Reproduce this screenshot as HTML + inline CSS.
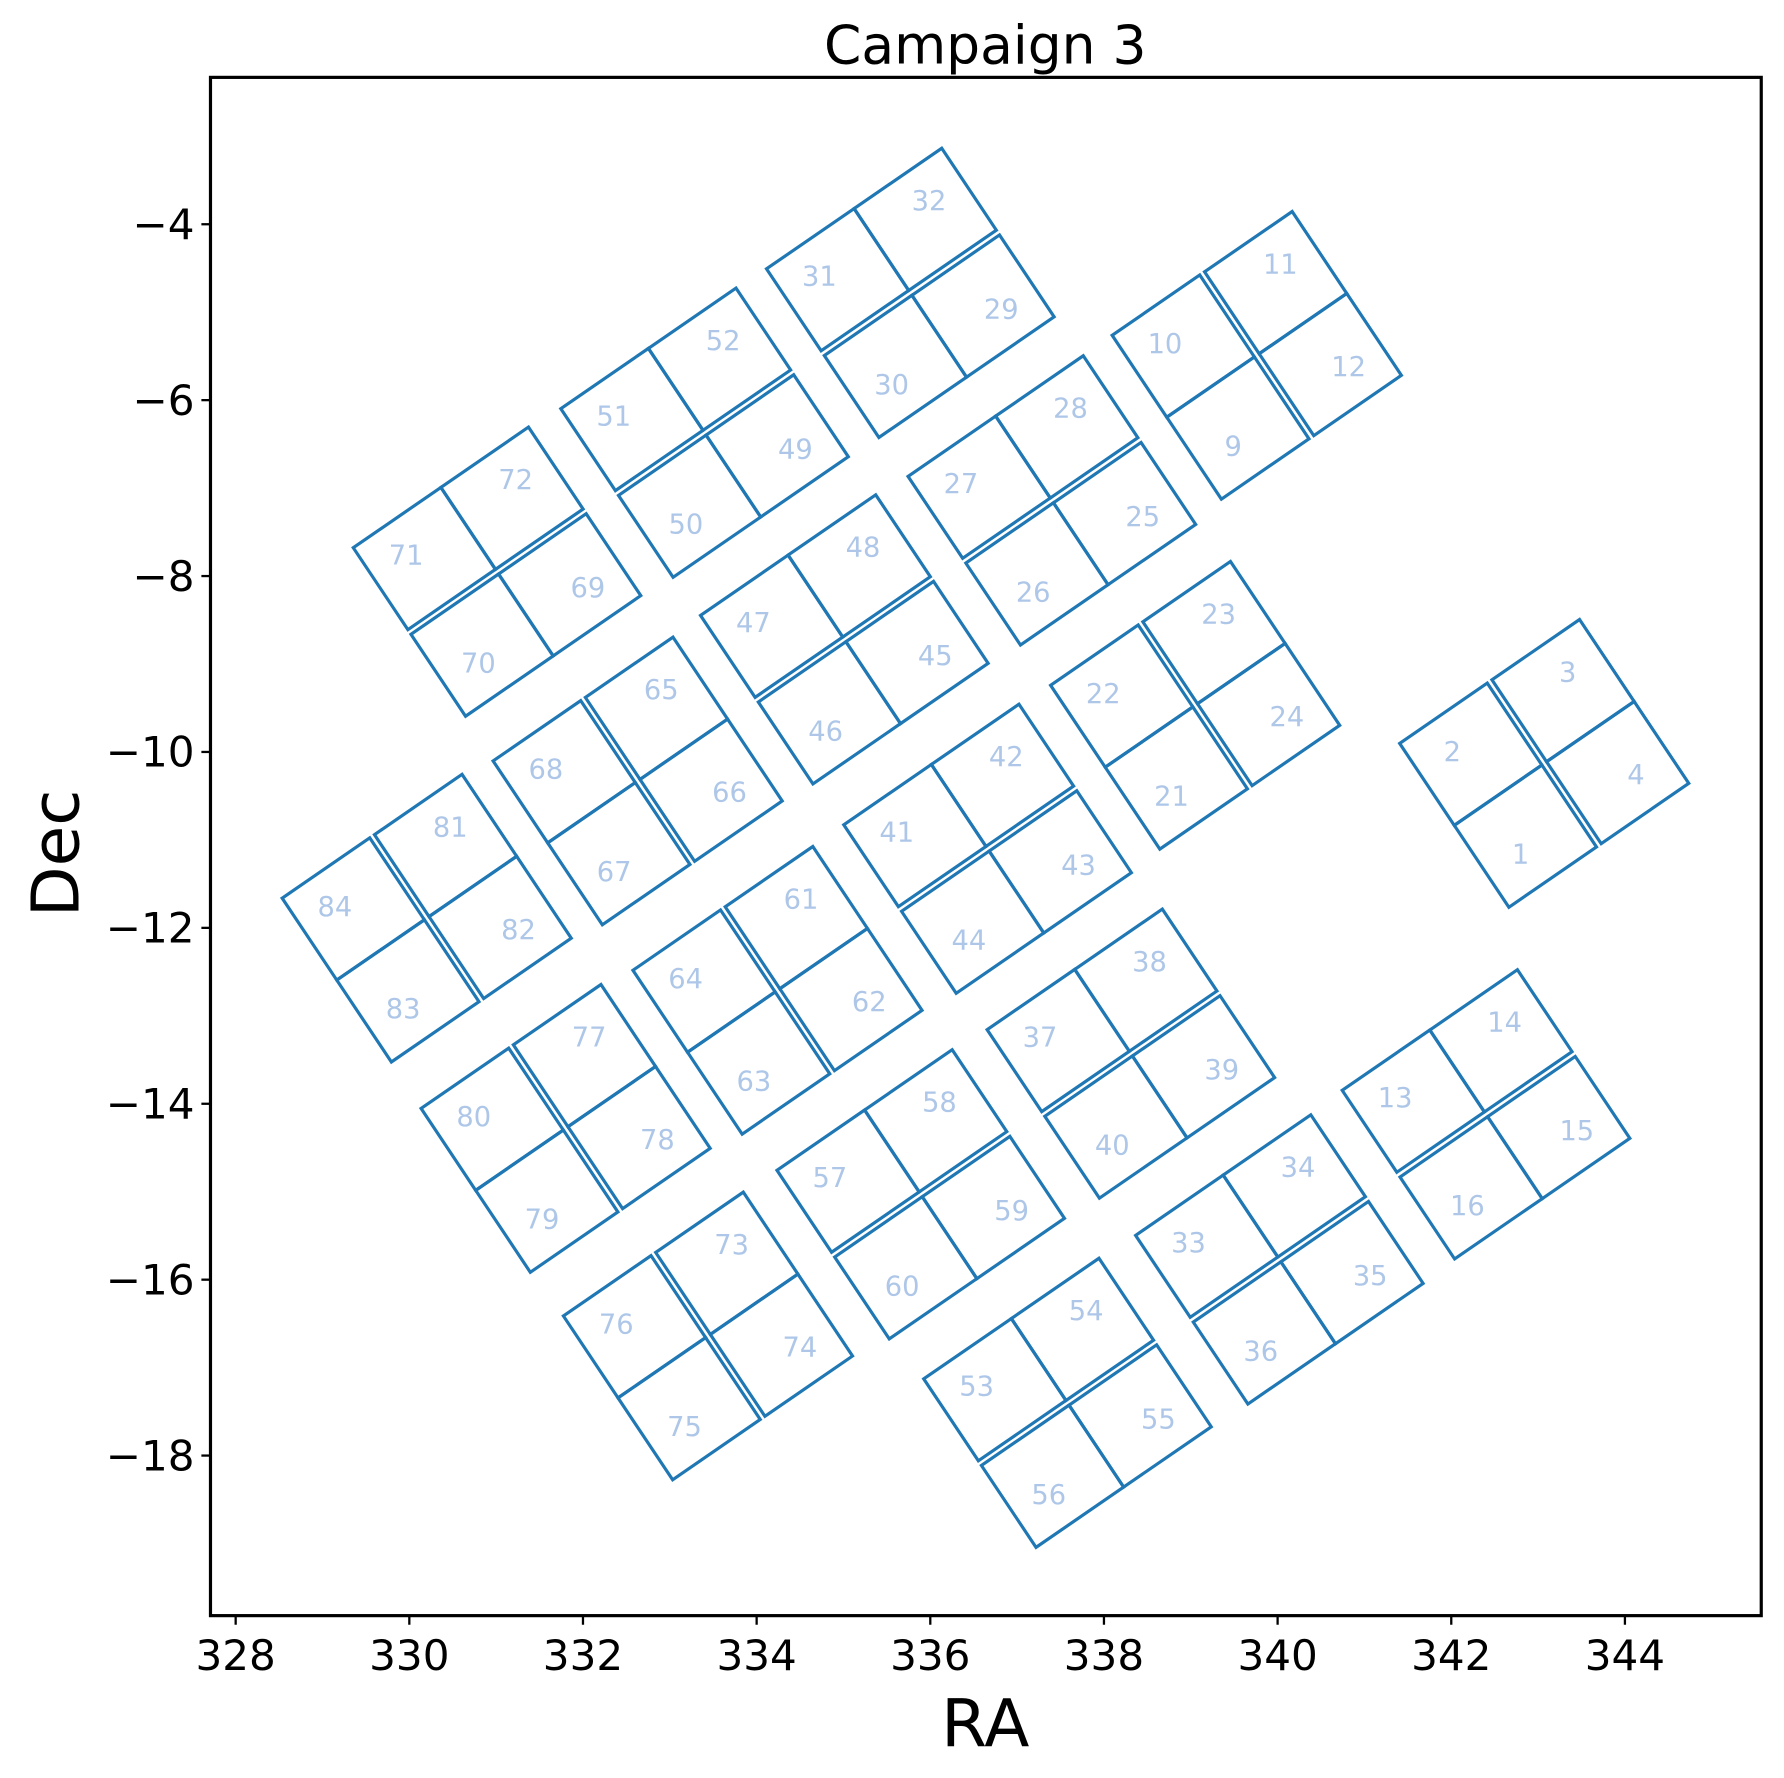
<!DOCTYPE html>
<html><head><meta charset="utf-8"><style>
body{margin:0;background:#fff;}
svg{display:block;font-family:"DejaVu Sans","Liberation Sans",sans-serif;}
</style></head><body>
<svg id="chart" width="1784" height="1778" viewBox="0 0 1568 1562.7" preserveAspectRatio="none" xmlns="http://www.w3.org/2000/svg">
<rect width="1568" height="1563" fill="#fff"/>
<text x="866" y="56" font-size="47" text-anchor="middle">Campaign 3</text>
<g id="marks"></g>
<g id="axes"></g>
<rect x="185" y="68" width="1363" height="1352" fill="none" stroke="#000" stroke-width="2.8"/>
<text x="866" y="1535" font-size="58" text-anchor="middle">RA</text>
<text transform="translate(69,750) rotate(-90)" font-size="58" text-anchor="middle">Dec</text>
</svg>
<script>
const moduleRA  = [335.77,339.76,333.40,331.01,337.40,335.01,343.07,332.63,339.05,336.66,330.20,334.24,338.31,342.40,331.80,335.89,340.02,333.44,337.58];
const moduleDec = [-4.78,-5.49,-6.37,-7.95,-7.14,-8.72,-10.13,-10.33,-9.47,-11.10,-11.89,-12.71,-13.43,-14.12,-14.28,-15.03,-15.77,-16.64,-17.40];
const chanTL = [31,10,51,71,27,47,2,68,22,41,84,64,37,13,80,57,33,76,53];
const chanTR = [32,11,52,72,28,48,3,65,23,42,81,61,38,14,77,58,34,73,54];
const chanBL = [30,9,50,70,26,46,1,67,21,44,83,63,40,16,79,60,36,75,56];
const chanBR = [29,12,49,69,25,45,4,66,24,43,82,62,39,15,78,59,35,74,55];
const splitCols = [0,1,0,0,0,0,1,1,1,0,1,1,0,0,1,0,0,1,0];
const xTicks = [328,330,332,334,336,338,340,342,344];
const yTicks = [-4,-6,-8,-10,-12,-14,-16,-18];

const X0=185,X1=1548,Y0=68,Y1=1420;
const xMin=327.71,xMax=345.57,yMin=-19.82,yMax=-2.33;
const xs=v=>X0+(v-xMin)/(xMax-xMin)*(X1-X0);
const ys=v=>Y1-(v-yMin)/(yMax-yMin)*(Y1-Y0);
const NS="http://www.w3.org/2000/svg";
const marks=document.getElementById('marks'), axes=document.getElementById('axes');
const U=[77,-53], V=[48,72], G=5;
const lu=Math.hypot(U[0],U[1]), lv=Math.hypot(V[0],V[1]);
for(let m=0;m<moduleRA.length;m++){
  const cx=xs(moduleRA[m]), cy=ys(moduleDec[m]);
  const gv = splitCols[m] ? [U[0]/lu*G,U[1]/lu*G] : [V[0]/lv*G,V[1]/lv*G];
  const ox=cx-U[0]-V[0]-gv[0]/2, oy=cy-U[1]-V[1]-gv[1]/2;
  const chans=[[chanTL[m],0,0],[chanTR[m],1,0],[chanBL[m],0,1],[chanBR[m],1,1]];
  for(const [num,i,j] of chans){
    const k = splitCols[m]? i : j;
    const px=ox+i*U[0]+j*V[0]+k*gv[0], py=oy+i*U[1]+j*V[1]+k*gv[1];
    const pts=[[px,py],[px+U[0],py+U[1]],[px+U[0]+V[0],py+U[1]+V[1]],[px+V[0],py+V[1]]];
    const poly=document.createElementNS(NS,'polygon');
    poly.setAttribute('points',pts.map(p=>p[0].toFixed(1)+','+p[1].toFixed(1)).join(' '));
    poly.setAttribute('fill','none');poly.setAttribute('stroke','#1f77b4');poly.setAttribute('stroke-width','2.8');
    
    
    marks.appendChild(poly);
    const ccx=px+(U[0]+V[0])/2, ccy=py+(U[1]+V[1])/2;
    const lx=ccx+0.25*(ccx-cx), ly=ccy+0.25*(ccy-cy);
    const t=document.createElementNS(NS,'text');
    t.setAttribute('x',lx.toFixed(1));t.setAttribute('y',(ly+8).toFixed(1));
    t.setAttribute('font-size','24');t.setAttribute('fill','#aec7e8');t.setAttribute('text-anchor','middle');
    t.textContent=num;
    
    
    marks.appendChild(t);
  }
}
for(const v of xTicks){
  const x=xs(v);
  const l=document.createElementNS(NS,'line');
  l.setAttribute('x1',x);l.setAttribute('x2',x);l.setAttribute('y1',Y1);l.setAttribute('y2',Y1+8);
  l.setAttribute('stroke','#000');l.setAttribute('stroke-width','2');
  
  
  axes.appendChild(l);
  const t=document.createElementNS(NS,'text');
  t.setAttribute('x',x);t.setAttribute('y',Y1+48);t.setAttribute('font-size','37');t.setAttribute('text-anchor','middle');
  t.textContent=v;
  
  
  axes.appendChild(t);
}
for(const v of yTicks){
  const y=ys(v);
  const l=document.createElementNS(NS,'line');
  l.setAttribute('x1',X0-8);l.setAttribute('x2',X0);l.setAttribute('y1',y);l.setAttribute('y2',y);
  l.setAttribute('stroke','#000');l.setAttribute('stroke-width','2');
  
  
  axes.appendChild(l);
  const t=document.createElementNS(NS,'text');
  t.setAttribute('x',X0-14);t.setAttribute('y',y+13);t.setAttribute('font-size','37');t.setAttribute('text-anchor','end');
  t.textContent='\u2212'+Math.abs(v);
  
  
  axes.appendChild(t);
}
</script>
</body></html>
